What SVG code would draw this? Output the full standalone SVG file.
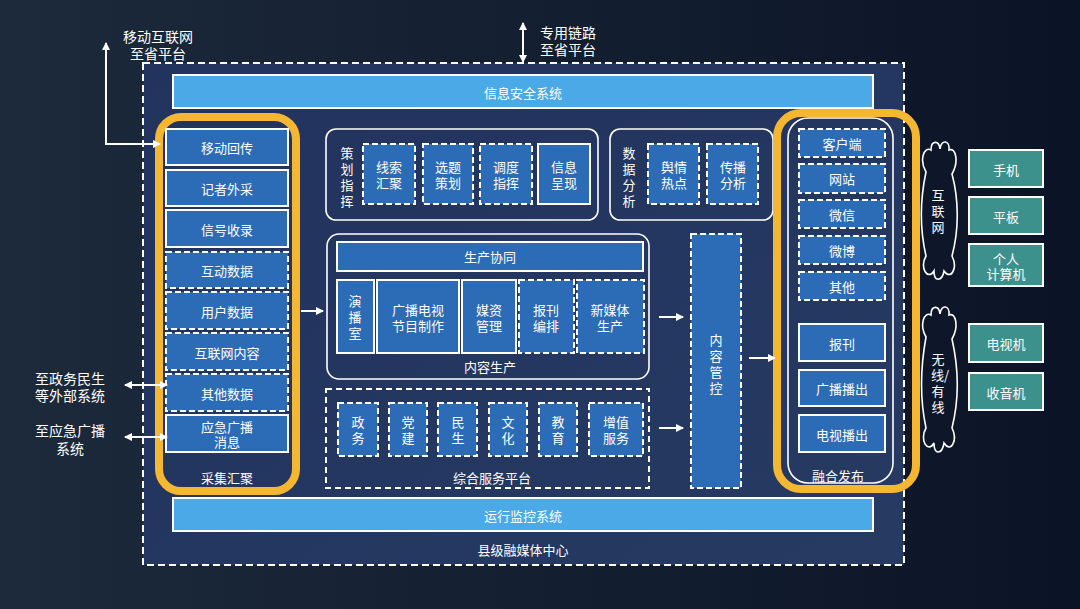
<svg xmlns="http://www.w3.org/2000/svg" width="1080" height="609" viewBox="0 0 1080 609">
<defs>
<linearGradient id="bg" x1="0" y1="0" x2="1" y2="0">
<stop offset="0" stop-color="#1c2a3b"/>
<stop offset="1" stop-color="#0b1426"/>
</linearGradient>
<linearGradient id="main" x1="0" y1="0" x2="1" y2="1">
<stop offset="0" stop-color="#22335d"/>
<stop offset="1" stop-color="#263a62"/>
</linearGradient>
<marker id="ah" markerWidth="8" markerHeight="8" refX="7" refY="4" orient="auto-start-reverse" markerUnits="userSpaceOnUse">
<path d="M0,0 L8,4 L0,8 z" fill="#fff"/>
</marker>
<style>
text{font-family:"Noto Sans CJK SC","Noto Sans",sans-serif;fill:#fff;font-size:13px;text-anchor:middle;dominant-baseline:central}
.lbl{font-size:14px}
.box{fill:#2c6cb6;stroke:#fff;stroke-width:2}
.dbox{fill:#2c6cb6;stroke:#fff;stroke-width:2;stroke-dasharray:6 3}
.bar{fill:#4aa9e6;stroke:#fff;stroke-width:2}
.grp{fill:none;stroke:#fff;stroke-width:1.6}
.dgrp{fill:none;stroke:#fff;stroke-width:2;stroke-dasharray:6 4}
.yel{fill:none;stroke:#f5b731;stroke-width:8}
.teal{fill:#3d918d;stroke:#fff;stroke-width:2}
.arr{stroke:#fff;stroke-width:2;fill:none}
.cloud{fill:#0e1729;stroke:#fff;stroke-width:1.6}
</style>
</defs>
<rect width="1080" height="609" fill="url(#bg)"/>

<g id="container">
<rect x="143" y="63" width="761" height="502" fill="url(#main)" stroke="#fff" stroke-width="2" stroke-dasharray="7 4"/>
<text x="523" y="549">县级融媒体中心</text>
</g>

<g id="security">
<rect class="bar" x="173" y="75" width="700" height="33"/>
<text x="523" y="92">信息安全系统</text>
</g>
<g id="monitor">
<rect class="bar" x="173" y="498" width="700" height="33"/>
<text x="523" y="515">运行监控系统</text>
</g>

<g id="collect">
<rect class="yel" x="159" y="117" width="137" height="374" rx="22"/>
<rect class="box" x="166" y="129" width="122" height="36"/><text x="227" y="147">移动回传</text>
<rect class="box" x="166" y="170" width="122" height="36"/><text x="227" y="188">记者外采</text>
<rect class="box" x="166" y="210" width="122" height="37"/><text x="227" y="229">信号收录</text>
<rect class="dbox" x="166" y="252" width="122" height="36"/><text x="227" y="270">互动数据</text>
<rect class="dbox" x="166" y="292" width="122" height="37"/><text x="227" y="311">用户数据</text>
<rect class="dbox" x="166" y="333" width="122" height="37"/><text x="227" y="352">互联网内容</text>
<rect class="dbox" x="166" y="374" width="122" height="37"/><text x="227" y="393">其他数据</text>
<rect class="box" x="166" y="415" width="122" height="37"/><text x="227" y="426">应急广播<tspan x="227" dy="15">消息</tspan></text>
<text x="227" y="477">采集汇聚</text>
</g>

<g id="plan">
<rect class="grp" x="326" y="129" width="272" height="91" rx="10"/>
<text x="347" y="152">策<tspan x="347" dy="16">划</tspan><tspan x="347" dy="16">指</tspan><tspan x="347" dy="16">挥</tspan></text>
<rect class="dbox" x="363" y="144" width="52" height="60"/><text x="389" y="166">线索<tspan x="389" dy="16">汇聚</tspan></text>
<rect class="dbox" x="423" y="144" width="50" height="60"/><text x="448" y="166">选题<tspan x="448" dy="16">策划</tspan></text>
<rect class="dbox" x="480" y="144" width="52" height="60"/><text x="506" y="166">调度<tspan x="506" dy="16">指挥</tspan></text>
<rect class="box" x="538" y="144" width="52" height="60"/><text x="564" y="166">信息<tspan x="564" dy="16">呈现</tspan></text>
</g>

<g id="analysis">
<rect class="grp" x="610" y="129" width="163" height="91" rx="10"/>
<text x="629" y="152">数<tspan x="629" dy="16">据</tspan><tspan x="629" dy="16">分</tspan><tspan x="629" dy="16">析</tspan></text>
<rect class="dbox" x="648" y="144" width="51" height="60"/><text x="674" y="166">舆情<tspan x="674" dy="16">热点</tspan></text>
<rect class="dbox" x="707" y="144" width="51" height="60"/><text x="733" y="166">传播<tspan x="733" dy="16">分析</tspan></text>
</g>

<g id="production">
<rect class="grp" x="327" y="234" width="322" height="145" rx="12"/>
<rect class="box" x="337" y="242" width="306" height="29"/><text x="490" y="256">生产协同</text>
<rect class="box" x="337" y="280" width="37" height="73"/><text x="355" y="300">演<tspan x="355" dy="16">播</tspan><tspan x="355" dy="16">室</tspan></text>
<rect class="box" x="377" y="280" width="82" height="73"/><text x="418" y="309">广播电视<tspan x="418" dy="16">节目制作</tspan></text>
<rect class="box" x="462" y="280" width="54" height="73"/><text x="489" y="309">媒资<tspan x="489" dy="16">管理</tspan></text>
<rect class="dbox" x="519" y="280" width="55" height="73"/><text x="546" y="309">报刊<tspan x="546" dy="16">编排</tspan></text>
<rect class="dbox" x="577" y="280" width="67" height="73"/><text x="610" y="309">新媒体<tspan x="610" dy="16">生产</tspan></text>
<text x="490" y="366">内容生产</text>
</g>

<g id="service">
<rect class="dgrp" x="326" y="389" width="323" height="99"/>
<rect class="dbox" x="338" y="403" width="40" height="53"/><text x="358" y="421">政<tspan x="358" dy="16">务</tspan></text>
<rect class="dbox" x="389" y="403" width="38" height="53"/><text x="408" y="421">党<tspan x="408" dy="16">建</tspan></text>
<rect class="dbox" x="438" y="403" width="39" height="53"/><text x="458" y="421">民<tspan x="458" dy="16">生</tspan></text>
<rect class="dbox" x="489" y="403" width="38" height="53"/><text x="508" y="421">文<tspan x="508" dy="16">化</tspan></text>
<rect class="dbox" x="539" y="403" width="38" height="53"/><text x="558" y="421">教<tspan x="558" dy="16">育</tspan></text>
<rect class="dbox" x="589" y="403" width="54" height="53"/><text x="616" y="421">增值<tspan x="616" dy="16">服务</tspan></text>
<text x="492" y="477">综合服务平台</text>
</g>

<g id="control">
<rect class="dbox" x="691" y="234" width="50" height="254"/>
<text x="716" y="339">内<tspan x="716" dy="16">容</tspan><tspan x="716" dy="16">管</tspan><tspan x="716" dy="16">控</tspan></text>
</g>

<g id="publish">
<rect class="yel" x="777" y="113" width="139" height="376" rx="24"/>
<rect class="grp" x="788" y="118" width="105" height="365" rx="20"/>
<rect class="dbox" x="799" y="129" width="86" height="28"/><text x="842" y="143">客户端</text>
<rect class="dbox" x="799" y="164" width="86" height="29"/><text x="842" y="178">网站</text>
<rect class="dbox" x="799" y="200" width="86" height="28"/><text x="842" y="214">微信</text>
<rect class="dbox" x="799" y="236" width="86" height="28"/><text x="842" y="250">微博</text>
<rect class="dbox" x="799" y="272" width="86" height="28"/><text x="842" y="286">其他</text>
<rect class="box" x="799" y="324" width="86" height="37"/><text x="842" y="343">报刊</text>
<rect class="box" x="799" y="370" width="86" height="36"/><text x="842" y="388">广播播出</text>
<rect class="box" x="799" y="415" width="86" height="37"/><text x="842" y="434">电视播出</text>
<text x="838" y="475">融合发布</text>
</g>

<g id="cloud-internet">
<path class="cloud" d="M926 172 C919 160 924 146 931 150 C931 140 939 140 940 149 C941 139 950 140 949 150 C956 147 959 162 952 174 C959 200 959 230 952 256 C958 268 951 281 944 271 C942 282 934 282 934 271 C928 281 919 268 926 256 C920 230 920 200 926 172 Z"/>
<text x="938" y="194">互<tspan x="938" dy="16">联</tspan><tspan x="938" dy="16">网</tspan></text>
</g>
<g id="cloud-broadcast">
<path class="cloud" d="M926 337 C919 325 924 311 931 315 C931 305 939 305 940 314 C941 304 950 305 949 315 C956 312 959 327 952 339 C959 370 959 400 952 428 C958 440 951 454 944 443 C942 455 934 455 934 443 C928 454 919 440 926 428 C920 400 920 370 926 337 Z"/>
<text x="938" y="358">无<tspan x="940" dy="16">线/</tspan><tspan x="938" dy="16">有</tspan><tspan x="938" dy="16">线</tspan></text>
</g>

<g id="dev-phone"><rect class="teal" x="969" y="150" width="74" height="37"/><text x="1006" y="169">手机</text></g>
<g id="dev-pad"><rect class="teal" x="969" y="197" width="74" height="37"/><text x="1006" y="216">平板</text></g>
<g id="dev-pc"><rect class="teal" x="969" y="244" width="74" height="42"/><text x="1006" y="258">个人<tspan x="1006" dy="15">计算机</tspan></text></g>
<g id="dev-tv"><rect class="teal" x="969" y="324" width="74" height="38"/><text x="1006" y="343">电视机</text></g>
<g id="dev-radio"><rect class="teal" x="969" y="373" width="74" height="37"/><text x="1006" y="392">收音机</text></g>

<g id="ext-labels">
<text class="lbl" x="158" y="36">移动互联网<tspan x="158" dy="17">至省平台</tspan></text>
<text class="lbl" x="540" y="32" style="text-anchor:start">专用链路<tspan x="540" dy="17">至省平台</tspan></text>
<text class="lbl" x="70" y="378">至政务民生<tspan x="70" dy="17">等外部系统</tspan></text>
<text class="lbl" x="70" y="430">至应急广播<tspan x="70" dy="18">系统</tspan></text>
</g>

<g id="connectors">
<path class="arr" d="M160 144 H106 V43" marker-start="url(#ah)" marker-end="url(#ah)"/>
<line class="arr" x1="523" y1="23" x2="523" y2="62" marker-start="url(#ah)" marker-end="url(#ah)"/>
<line class="arr" x1="125" y1="385" x2="167" y2="385" marker-start="url(#ah)" marker-end="url(#ah)"/>
<line class="arr" x1="125" y1="437" x2="167" y2="437" marker-start="url(#ah)" marker-end="url(#ah)"/>
<line class="arr" x1="301" y1="311" x2="323" y2="311" marker-end="url(#ah)"/>
<line class="arr" x1="659" y1="317" x2="683" y2="317" marker-end="url(#ah)"/>
<line class="arr" x1="659" y1="428" x2="683" y2="428" marker-end="url(#ah)"/>
<line class="arr" x1="749" y1="358" x2="775" y2="358" marker-end="url(#ah)"/>
</g>
</svg>
